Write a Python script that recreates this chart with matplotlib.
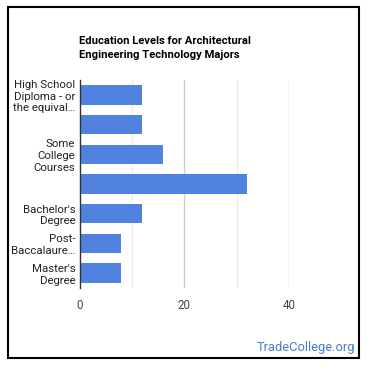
import matplotlib.pyplot as plt
from matplotlib.patches import Rectangle

# Education levels and percentage of workers
levels = ["High School\nDiploma - or\nthe equival…", "", "Some\nCollege\nCourses", "",
          "Bachelor's\nDegree", "Post-\nBaccalaure…", "Master's\nDegree"]
percents = [12, 12, 16, 32, 12, 8, 8]
x_ticks = [0, 20, 40]

plt.rcParams['font.family'] = ['Roboto', 'DejaVu Sans']

fig = plt.figure(figsize=(3.7, 3.7), dpi=100)
ax = fig.add_axes([79.5 / 370, 1 - 288 / 370, (289 - 79.5) / 370, (288 - 80) / 370])

ypos = list(range(len(levels)))
ax.barh(ypos, percents, height=0.65, color='#5282e0', zorder=3)
ax.set_ylim(len(levels) - 0.5, -0.5)
ax.set_xlim(0, 40)

# gridlines: major every 20, minor every 10
for v in [10, 30]:
    ax.axvline(v, color='#ececec', lw=1, zorder=1)
for v in [20, 40]:
    ax.axvline(v, color='#cccccc', lw=1, zorder=1)

ax.set_xticks(x_ticks)
ax.set_xticklabels([str(t) for t in x_ticks], color='#444444', fontsize=8.3)
ax.set_yticks(ypos)
ax.set_yticklabels(levels, fontsize=8.2, color='#222222', linespacing=1.22)
ax.tick_params(axis='both', length=0)
ax.tick_params(axis='x', pad=8)
ax.tick_params(axis='y', pad=3)

for s in ['top', 'right', 'bottom']:
    ax.spines[s].set_visible(False)
ax.spines['left'].set_color('#333333')
ax.spines['left'].set_linewidth(1)
ax.spines['left'].set_zorder(4)

fig.text(79 / 370, 1 - 36 / 370, "Education Levels for Architectural\nEngineering Technology Majors",
         fontsize=8.1, fontweight='bold', color='#000000', ha='left', va='top', linespacing=1.5)

fig.text(355 / 370, 1 - 347 / 370, "TradeCollege.org", fontsize=9.3, color='#4a7bd0',
         ha='right', va='center')

# outer frame
fig.patches.append(Rectangle((8 / 370, 12 / 370), 351 / 370, 351 / 370, transform=fig.transFigure,
                             fill=False, edgecolor='black', lw=1.5))

fig.savefig('out.png', dpi=100)
